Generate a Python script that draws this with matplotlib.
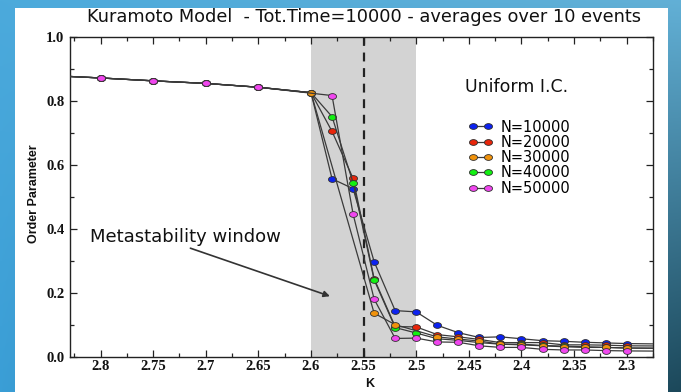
import numpy as np
import matplotlib
matplotlib.use("Agg")
import matplotlib.pyplot as plt
from matplotlib.path import Path
from matplotlib.transforms import Affine2D
from matplotlib.patches import Rectangle

# ---- data -------------------------------------------------------------
K = [2.85, 2.80, 2.75, 2.70, 2.65, 2.60, 2.58, 2.56, 2.54, 2.52, 2.50,
     2.48, 2.46, 2.44, 2.42, 2.40, 2.38, 2.36, 2.34, 2.32, 2.30, 2.25]

upper = [0.880, 0.872, 0.863, 0.855, 0.843]
nan = float("nan")

n10000 = upper + [0.826, 0.557, 0.526, 0.298, 0.145, 0.141, 0.099, 0.076,
                  0.061, 0.063, 0.057, 0.051, 0.049, 0.046, 0.044, 0.042, 0.040]
n20000 = upper + [0.826, 0.705, 0.558, 0.245, 0.095, 0.094, 0.070, 0.063,
                  0.055, 0.045, 0.045, 0.045, 0.038, 0.038, 0.037, 0.035, 0.034]
n30000 = upper + [0.826, nan, nan, 0.137, 0.101, nan, 0.063, 0.056,
                  0.050, 0.040, 0.038, 0.035, 0.032, 0.030, 0.030, 0.028, 0.027]
n40000 = upper + [0.826, 0.751, 0.545, 0.241, 0.092, 0.075, 0.057, 0.052,
                  0.045, 0.040, 0.040, 0.036, 0.034, 0.032, 0.030, 0.028, 0.027]
n50000 = upper + [nan, 0.817, 0.447, 0.181, 0.058, 0.059, 0.047, 0.046,
                  0.035, 0.030, 0.030, 0.024, 0.022, 0.022, 0.020, 0.019, 0.018]

series_labels = ["N=10000", "N=20000", "N=30000", "N=40000", "N=50000"]
series_values = [n10000, n20000, n30000, n40000, n50000]
series_colors = ["#0c22f0", "#e8250a", "#f0920c", "#12f012", "#f046ee"]
# stacking of the markers
series_z = [3.0, 3.1, 3.3, 3.2, 3.4]

x_ticks = [2.8, 2.75, 2.7, 2.65, 2.6, 2.55, 2.5, 2.45, 2.4, 2.35, 2.3]
y_ticks = [0.0, 0.2, 0.4, 0.6, 0.8, 1.0]

title = "Kuramoto Model  - Tot.Time=10000 - averages over 10 events"

# ---- figure -----------------------------------------------------------
W, H = 681, 392
fig = plt.figure(figsize=(W / 100, H / 100), dpi=100)

# slide-style blue backdrop
bg = fig.add_axes([0, 0, 1, 1])
gx = np.linspace(0, 1, 256)[None, :, None]
gy = np.linspace(0, 1, 256)[:, None, None]
tl = np.array([0x4c, 0xaa, 0xdc]) / 255
tr = np.array([0x62, 0xb0, 0xd6]) / 255
bl = np.array([0x3a, 0x9e, 0xd6]) / 255
br = np.array([0x1c, 0x48, 0x5a]) / 255
grad = ((1 - gx) * (1 - gy) * tl + gx * (1 - gy) * tr
        + (1 - gx) * gy * bl + gx * gy * br)
bg.imshow(grad, extent=[0, 1, 0, 1], aspect="auto", origin="upper")
bg.add_patch(Rectangle((15 / W, 0), (668 - 15) / W, (H - 8) / H,
                       transform=bg.transAxes, facecolor="white",
                       edgecolor="none", zorder=2))
bg.set_xlim(0, 1)
bg.set_ylim(0, 1)
bg.axis("off")

ax = fig.add_axes([70 / W, (H - 357) / H, 583 / W, 320 / H])
ax.set_facecolor("white")

# metastability band and critical coupling line
ax.axvspan(2.6, 2.5, color="#d3d3d3", zorder=0, lw=0)
ax.axvline(2.55, color="#222222", ls=(0, (4, 3)), lw=1.6, zorder=1)

# elliptical markers
ellipse = Path.unit_circle().transformed(Affine2D().scale(1.0, 0.72))

K_arr = np.array(K)
for lab, vals, col, z in zip(series_labels, series_values, series_colors,
                             series_z):
    v = np.array(vals, dtype=float)
    m = np.isfinite(v)
    ax.plot(K_arr[m], v[m], color="#3a3a3a", lw=0.9, marker=ellipse,
            ms=5.8, mfc=col, mec="#303030", mew=0.6, label=lab, zorder=z)

ax.set_xlim(2.829, 2.28)
ax.set_ylim(0, 1)

ax.set_xticks(x_ticks)
ax.set_xticklabels([f"{t:g}" for t in x_ticks])
ax.set_xticks([t + 0.025 for t in x_ticks[1:]] + [2.825, 2.275], minor=True)
ax.set_yticks(y_ticks)
ax.set_yticklabels([f"{t:.1f}" for t in y_ticks])
ax.set_yticks([0.1, 0.3, 0.5, 0.7, 0.9], minor=True)

ax.tick_params(which="both", direction="in", top=True, right=True,
               width=0.9, color="#222222")
ax.tick_params(which="major", length=5)
ax.tick_params(axis="x", which="major", pad=2)
ax.tick_params(axis="y", which="major", pad=4)
ax.tick_params(which="minor", length=3)
for lbl in ax.get_xticklabels() + ax.get_yticklabels():
    lbl.set_fontfamily("Liberation Serif")
    lbl.set_fontweight("bold")
    lbl.set_fontsize(10.5)
    lbl.set_color("#111111")
for s in ax.spines.values():
    s.set_linewidth(1.0)
    s.set_color("#222222")

# annotation
ax.annotate("", xy=(2.582, 0.190), xytext=(2.7146, 0.340),
            arrowprops=dict(arrowstyle="-|>", color="#333333", lw=1.2,
                            mutation_scale=9, shrinkA=0, shrinkB=0))
ax.text(2.810, 0.374, "Metastability window", ha="left", va="center",
        fontsize=13, family="DejaVu Sans", color="#111111")

ax.text(0.678, 0.844, "Uniform I.C.", transform=ax.transAxes, ha="left",
        va="center", fontsize=12.5, family="DejaVu Sans", color="#111111")

leg = ax.legend(loc="upper left", bbox_to_anchor=(0.683, 0.742),
                frameon=False, numpoints=2, handlelength=1.65,
                handletextpad=0.55, labelspacing=0.02, borderpad=0,
                borderaxespad=0, prop=dict(family="DejaVu Sans", size=10.5))

fig.text(364 / W, 1 - 17 / H, title, ha="center", va="center",
         fontsize=12.8, family="DejaVu Sans", color="#111111")
fig.text(34 / W, 1 - 194 / H, "Order Parameter", rotation=90, ha="center",
         va="center", fontsize=9, fontweight="bold",
         family="Liberation Sans", color="#111111")
fig.text(370 / W, 1 - 384 / H, "K", ha="center", va="center", fontsize=9,
         fontweight="bold", family="Liberation Sans", color="#111111")

fig.savefig("out.png", dpi=100)
